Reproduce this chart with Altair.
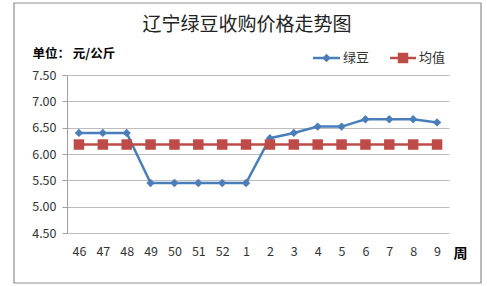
import altair as alt
import pandas as pd

weeks = ["46", "47", "48", "49", "50", "51", "52", "1", "2", "3", "4", "5", "6", "7", "8", "9"]
mung = [6.40, 6.40, 6.40, 5.45, 5.45, 5.45, 5.45, 5.45, 6.30, 6.40, 6.52, 6.52, 6.66, 6.66, 6.66, 6.60]
avg = [6.18] * 16
y_ticks = [4.5, 5.0, 5.5, 6.0, 6.5, 7.0, 7.5]

BLUE = "#4A7EBB"
RED = "#BE4B48"
FONT = "Noto Sans CJK SC"

df = pd.DataFrame({"week": weeks, "绿豆": mung, "均值": avg})

x = alt.X("week:N", sort=weeks, scale=alt.Scale(type="point", padding=0.5),
          axis=alt.Axis(title="周", titleAngle=0, titleX=393, titleY=20, titleBaseline="middle",
                        titleFontWeight="bold", titleFontSize=14, titleFont=FONT,
                        labelAngle=0, labelPadding=12, ticks=False, domain=False,
                        labelFontSize=12.5, labelColor="#333333", grid=False))
y_scale = alt.Scale(domain=[4.5, 7.5], nice=False, zero=False)
y_axis = alt.Axis(values=y_ticks, tickCount=7, format=".2f", title="单位： 元/公斤", titleAngle=0,
                  titleAlign="left", titleX=-35, titleY=-22, titleBaseline="middle",
                  titleFontWeight="bold", titleFontSize=12.5, titleFont=FONT,
                  labelFontSize=12.5, labelColor="#333333", labelPadding=6, labelOverlap=False,
                  tickSize=5, tickColor="#A0A0A0", domainColor="#A0A0A0",
                  grid=True, gridColor="#BDBDBD")

base = alt.Chart(df)

def yenc(field):
    return alt.Y(field + ":Q", scale=y_scale, axis=y_axis)

blue_line = base.mark_line(color=BLUE, strokeWidth=2.5).encode(x=x, y=yenc("绿豆"))
blue_pts = base.mark_point(shape="diamond", filled=True, color=BLUE, size=70, opacity=1).encode(x=x, y=yenc("绿豆"))
red_line = base.mark_line(color=RED, strokeWidth=2.5).encode(x=x, y=yenc("均值"))
red_pts = base.mark_point(shape="square", filled=True, color=RED, size=110, opacity=1).encode(x=x, y=yenc("均值"))

frame = alt.Chart(pd.DataFrame({"a": [0]})).mark_rect(fill=None, stroke="#8C8C8C", strokeWidth=1.2).encode(
    x=alt.value(-53), x2=alt.value(414), y=alt.value(-72), y2=alt.value(208))

leg = alt.Chart(pd.DataFrame({"a": [0]}))
leg_blue_line = leg.mark_rule(color=BLUE, strokeWidth=2.5).encode(x=alt.value(246), x2=alt.value(273), y=alt.value(-17))
leg_blue_pt = leg.mark_point(shape="diamond", filled=True, color=BLUE, size=70, opacity=1).encode(x=alt.value(259.5), y=alt.value(-17))
leg_blue_txt = leg.mark_text(text="绿豆", align="left", baseline="middle", font=FONT, fontSize=13, color="#333333").encode(x=alt.value(276), y=alt.value(-17))
leg_red_line = leg.mark_rule(color=RED, strokeWidth=2.5).encode(x=alt.value(323), x2=alt.value(349), y=alt.value(-17))
leg_red_pt = leg.mark_point(shape="square", filled=True, color=RED, size=110, opacity=1).encode(x=alt.value(336), y=alt.value(-17))
leg_red_txt = leg.mark_text(text="均值", align="left", baseline="middle", font=FONT, fontSize=13, color="#333333").encode(x=alt.value(352), y=alt.value(-17))
title_txt = leg.mark_text(text="辽宁绿豆收购价格走势图", align="center", baseline="middle", font=FONT, fontSize=19, color="#222222").encode(x=alt.value(180), y=alt.value(-50))

chart = alt.layer(
    blue_line, red_line, blue_pts, red_pts, frame,
    leg_blue_line, leg_blue_pt, leg_blue_txt, leg_red_line, leg_red_pt, leg_red_txt, title_txt
).properties(
    width=382, height=158,
    autosize=alt.AutoSizeParams(type="none"),
    padding={"left": 67, "top": 75, "right": 38, "bottom": 53},
    background="white",
).configure_view(stroke=None).configure_axis(labelFont=FONT)

chart.save("out.html", embed_options={"renderer": "svg", "actions": False})
